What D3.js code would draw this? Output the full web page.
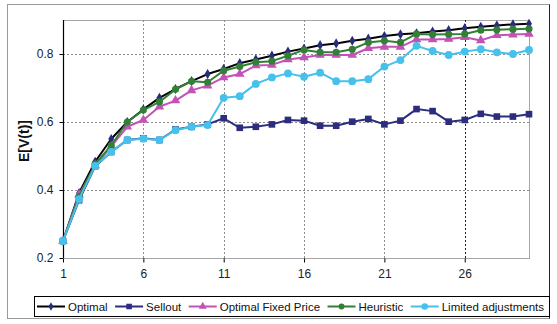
<!DOCTYPE html>
<html>
<head>
<meta charset="utf-8">
<script src="https://cdn.jsdelivr.net/npm/d3@7"></script>
<style>
  html, body { margin: 0; padding: 0; background: #fff; }
  svg { display: block; font-family: Arial, "Liberation Sans", sans-serif; }
</style>
</head>
<body>
<svg id="chart"></svg>
<script>
(function () {
  var WIDTH = 557
  var HEIGHT = 324

  // Periods 1..30
  var periods = d3.range(1, 31)
  var xTicks = [1, 6, 11, 16, 21, 26]
  var yTicks = [0.2, 0.4, 0.6, 0.8]

  var optimal = [0.25, 0.391, 0.483, 0.55, 0.6, 0.637, 0.671, 0.697, 0.72, 0.741,
    0.756, 0.773, 0.784, 0.795, 0.807, 0.816, 0.826, 0.831, 0.839, 0.845,
    0.853, 0.858, 0.861, 0.866, 0.87, 0.876, 0.88, 0.884, 0.887, 0.889]
  var sellout = [0.25, 0.37, 0.47, 0.512, 0.547, 0.552, 0.547, 0.578, 0.586, 0.593,
    0.611, 0.583, 0.586, 0.593, 0.606, 0.604, 0.589, 0.589, 0.601, 0.609,
    0.593, 0.604, 0.638, 0.632, 0.601, 0.606, 0.624, 0.616, 0.616, 0.623]
  var fixedPrice = [0.25, 0.386, 0.472, 0.528, 0.586, 0.606, 0.645, 0.663, 0.693, 0.707,
    0.731, 0.741, 0.766, 0.768, 0.784, 0.79, 0.797, 0.797, 0.797, 0.817,
    0.821, 0.821, 0.843, 0.843, 0.844, 0.849, 0.84, 0.855, 0.857, 0.859]
  var heuristic = [0.25, 0.38, 0.476, 0.531, 0.6, 0.635, 0.659, 0.696, 0.72, 0.717,
    0.751, 0.763, 0.776, 0.779, 0.795, 0.812, 0.805, 0.805, 0.814, 0.834,
    0.839, 0.834, 0.859, 0.857, 0.858, 0.859, 0.87, 0.871, 0.873, 0.874]
  var limited = [0.25, 0.373, 0.471, 0.512, 0.547, 0.551, 0.547, 0.576, 0.586, 0.591,
    0.671, 0.676, 0.712, 0.731, 0.743, 0.733, 0.745, 0.72, 0.72, 0.726,
    0.763, 0.782, 0.824, 0.809, 0.797, 0.807, 0.814, 0.805, 0.8, 0.812]

  var series = [
    { name: 'Optimal', values: optimal, line: '#000000', marker: '#2b2b7c', shape: d3.symbolDiamond, size: 30 },
    { name: 'Sellout', values: sellout, line: '#2d2d7f', marker: '#2d2d7f', shape: d3.symbolSquare, size: 44 },
    { name: 'Optimal Fixed Price', values: fixedPrice, line: '#c252b6', marker: '#c252b6', shape: d3.symbolTriangle, size: 40 },
    { name: 'Heuristic', values: heuristic, line: '#318036', marker: '#318036', shape: d3.symbolCircle, size: 40 },
    { name: 'Limited adjustments', values: limited, line: '#45c1eb', marker: '#45c1eb', shape: d3.symbolCircle, size: 48 }
  ]

  var plot = { left: 63, right: 529, top: 20, bottom: 258 }

  var svg = d3.select('#chart')
    .attr('width', WIDTH)
    .attr('height', HEIGHT)

  var x = d3.scaleLinear().domain([1, 30]).range([plot.left, plot.right])
  var y = d3.scaleLinear().domain([0.2, 0.9]).range([plot.bottom, plot.top])

  // outer frame
  svg.append('rect')
    .attr('x', 7.5).attr('y', 4.5)
    .attr('width', 542).attr('height', 314)
    .attr('fill', 'none')
    .attr('stroke', '#9a9a9a')
  svg.append('line')
    .attr('x1', 549.5).attr('x2', 549.5)
    .attr('y1', 4.5).attr('y2', 318.5)
    .attr('stroke', '#222')

  // plot area border
  svg.append('rect')
    .attr('x', plot.left + 0.5).attr('y', plot.top + 0.5)
    .attr('width', plot.right - plot.left).attr('height', plot.bottom - plot.top)
    .attr('fill', 'none')
    .attr('stroke', '#a6a6a6')

  // gridlines
  var grid = svg.append('g').attr('class', 'grid')
  grid.selectAll('line.h')
    .data(yTicks.slice(1))
    .enter().append('line')
    .attr('class', 'h')
    .attr('x1', plot.left).attr('x2', plot.right)
    .attr('y1', function (d) { return Math.round(y(d)) + 0.5 })
    .attr('y2', function (d) { return Math.round(y(d)) + 0.5 })
    .attr('stroke', '#8c8c8c')
    .attr('stroke-dasharray', '2,2')
  grid.selectAll('line.v')
    .data(xTicks.slice(1))
    .enter().append('line')
    .attr('class', 'v')
    .attr('x1', function (d) { return Math.round(x(d)) + 0.5 })
    .attr('x2', function (d) { return Math.round(x(d)) + 0.5 })
    .attr('y1', plot.top).attr('y2', plot.bottom)
    .attr('stroke', function (d) { return d === 26 ? '#222' : '#8c8c8c' })
    .attr('stroke-dasharray', '2,2')

  // axes
  var yAxis = d3.axisLeft(y)
    .tickValues(yTicks)
    .tickFormat(d3.format('.1f'))
    .tickSize(4)
    .tickPadding(6)
  var gy = svg.append('g')
    .attr('transform', 'translate(' + (plot.left + 0.5) + ',0)')
    .call(yAxis)
  gy.select('.domain').attr('stroke', '#000').attr('stroke-width', 1.2)
    .attr('d', 'M0,' + plot.top + 'V' + plot.bottom)
  gy.selectAll('.tick line').attr('stroke', '#000')
  gy.selectAll('.tick text').attr('font-size', 12).attr('fill', '#222')
    .attr('font-family', 'Arial, "Liberation Sans", sans-serif')

  var xAxis = d3.axisBottom(x)
    .tickValues(xTicks)
    .tickFormat(d3.format('d'))
    .tickSize(4)
    .tickPadding(7)
  var gx = svg.append('g')
    .attr('transform', 'translate(0,' + (plot.bottom + 0.5) + ')')
    .call(xAxis)
  gx.select('.domain').attr('stroke', '#a6a6a6')
    .attr('d', 'M' + plot.left + ',0H' + plot.right)
  gx.selectAll('.tick line').attr('stroke', '#000')
  gx.selectAll('.tick text').attr('font-size', 12).attr('fill', '#222')
    .attr('font-family', 'Arial, "Liberation Sans", sans-serif')

  svg.append('text')
    .attr('transform', 'translate(29,141) rotate(-90)')
    .attr('text-anchor', 'middle')
    .attr('font-size', 14)
    .attr('font-weight', 'bold')
    .attr('fill', '#111')
    .text('E[V(t)]')

  // series
  var line = d3.line()
    .x(function (d, i) { return x(periods[i]) })
    .y(function (d) { return y(d) })

  var layer = svg.append('g').attr('class', 'series')
  series.forEach(function (s) {
    var g = layer.append('g')
    g.append('path')
      .attr('d', line(s.values))
      .attr('fill', 'none')
      .attr('stroke', s.line)
      .attr('stroke-width', 2)
      .attr('stroke-linejoin', 'round')
    g.selectAll('path.pt')
      .data(s.values)
      .enter().append('path')
      .attr('class', 'pt')
      .attr('d', d3.symbol().type(s.shape).size(s.size))
      .attr('transform', function (d, i) {
        return 'translate(' + x(periods[i]) + ',' + y(d) + ')'
      })
      .attr('fill', s.marker)
  })

  // legend
  var legend = svg.append('g').attr('class', 'legend')
  legend.append('rect')
    .attr('x', 34.5).attr('y', 296.5)
    .attr('width', 515).attr('height', 20)
    .attr('fill', '#fff')
    .attr('stroke', '#000')

  var items = legend.selectAll('g.item')
    .data(series)
    .enter().append('g')
    .attr('class', 'item')
  items.append('text')
    .attr('x', 31)
    .attr('y', 4)
    .attr('font-size', 11.5)
    .attr('fill', '#111')
    .text(function (d) { return d.name })

  // spread entries across the box: first line at 37, last text ends near 544
  var widths = []
  items.selectAll('text').each(function () { widths.push(this.getComputedTextLength()) })
  var gap = (544 - 37 - d3.sum(widths) - series.length * 31) / (series.length - 1)
  var cursor = 37
  items.attr('transform', function (d, i) {
    var t = 'translate(' + cursor + ',306.5)'
    cursor += 31 + widths[i] + gap
    return t
  })
  items.append('line')
    .attr('x1', 0).attr('x2', 28)
    .attr('stroke', function (d) { return d.line })
    .attr('stroke-width', 2)
  items.append('path')
    .attr('d', function (d) { return d3.symbol().type(d.shape).size(d.size * 0.7)() })
    .attr('transform', 'translate(14,0)')
    .attr('fill', function (d) { return d.marker })
})()
</script>
</body>
</html>
